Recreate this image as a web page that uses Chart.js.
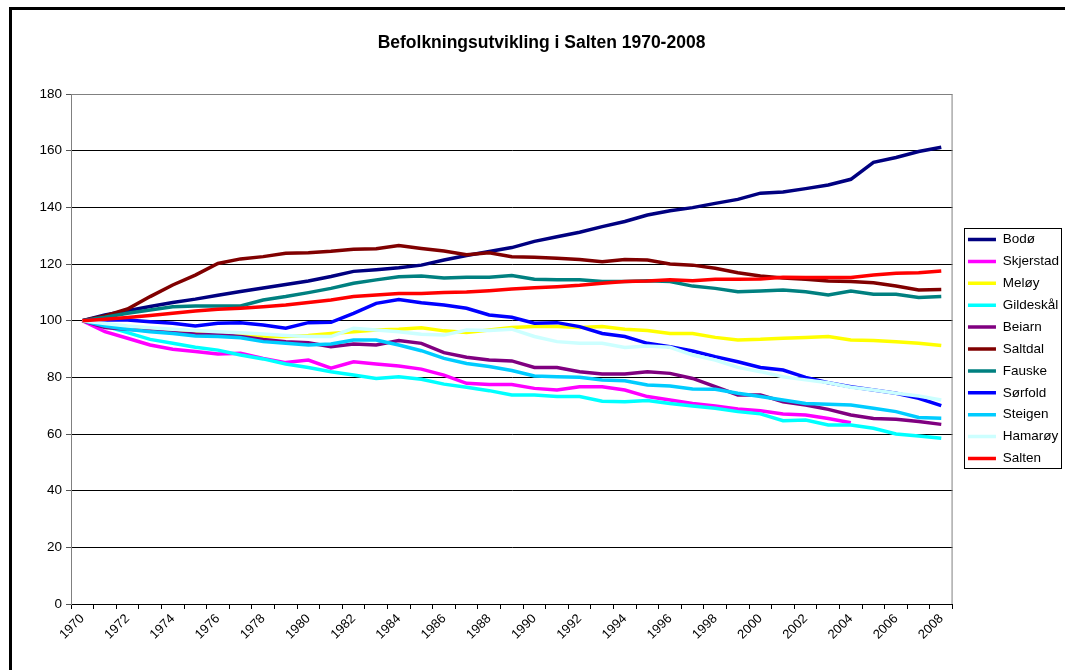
<!DOCTYPE html>
<html>
<head>
<meta charset="utf-8">
<title>Befolkningsutvikling i Salten 1970-2008</title>
<script src="https://cdn.jsdelivr.net/npm/chart.js@4/dist/chart.umd.min.js"></script>
<style>
  html, body { margin: 0; padding: 0; background: #fff; overflow: hidden; }
  #wrap { position: relative; width: 1065px; height: 670px; }
  #frame { position: absolute; left: 9px; top: 7px; width: 1100px; height: 700px; border: 3px solid #000; pointer-events: none; }
</style>
</head>
<body>
<div id="wrap">
  <canvas id="graphCanvas" width="1065" height="670"></canvas>
  <div id="frame"></div>
</div>
<script>
var years = ['1970','1971','1972','1973','1974','1975','1976','1977','1978','1979',
             '1980','1981','1982','1983','1984','1985','1986','1987','1988','1989',
             '1990','1991','1992','1993','1994','1995','1996','1997','1998','1999',
             '2000','2001','2002','2003','2004','2005','2006','2007','2008'];

var bodo      = [100, 102, 103.5, 105, 106.4, 107.6, 109, 110.3, 111.5, 112.8, 114, 115.6, 117.4, 118, 118.7, 119.6, 121.4, 123, 124.4, 125.8, 128, 129.6, 131.2, 133.2, 135, 137.3, 138.8, 139.9, 141.4, 142.8, 145, 145.4, 146.6, 147.9, 149.9, 155.9, 157.6, 159.7, 161.2];
var skjerstad = [100, 96.1, 93.8, 91.4, 89.9, 89.1, 88.2, 88.5, 86.7, 85.2, 86.1, 83.2, 85.5, 84.7, 84, 82.9, 80.8, 77.9, 77.5, 77.5, 76.1, 75.5, 76.7, 76.7, 75.5, 73.2, 72, 70.8, 69.9, 68.8, 68.2, 67.1, 66.7, 65.5, 64, null, null, null, null];
var meloy     = [100, 98.6, 97.6, 97, 96.4, 95.8, 95.4, 95, 94.4, 94.4, 94.8, 95.5, 96.1, 96.7, 97, 97.5, 96.4, 95.8, 96.7, 97.6, 97.9, 97.9, 97.6, 97.9, 97, 96.5, 95.5, 95.5, 94.1, 93.2, 93.4, 93.8, 94.1, 94.4, 93.2, 93, 92.6, 92, 91.2];
var gildeskal = [100, 98.1, 95.8, 93.4, 92, 90.6, 89.6, 87.9, 86.5, 84.7, 83.5, 82, 80.8, 79.6, 80.2, 79.3, 77.6, 76.5, 75.3, 73.8, 73.8, 73.2, 73.2, 71.6, 71.4, 71.8, 70.8, 69.9, 69.1, 67.9, 67.1, 64.7, 64.9, 63.2, 63.2, 62, 60, 59.3, 58.5];
var beiarn    = [100, 97.6, 97, 96.4, 95.8, 95.3, 95.2, 94.4, 93.4, 92.6, 92.2, 90.8, 91.8, 91.4, 93, 92, 88.7, 87.1, 86.1, 85.8, 83.5, 83.5, 82, 81.2, 81.2, 82, 81.4, 79.6, 76.7, 73.8, 73.8, 71.4, 70.2, 68.7, 66.7, 65.5, 65.2, 64.4, 63.4];
var saltdal   = [100, 101.7, 104.1, 108.5, 112.6, 116.1, 120.2, 121.8, 122.6, 123.8, 124, 124.5, 125.2, 125.4, 126.5, 125.5, 124.6, 123.3, 124, 122.6, 122.4, 122, 121.6, 120.8, 121.6, 121.4, 120, 119.6, 118.5, 116.9, 115.8, 115.1, 114.6, 114, 113.8, 113.4, 112.2, 110.8, 111];
var fauske    = [100, 101.2, 102.6, 103.8, 104.9, 105.2, 105.2, 105.2, 107.3, 108.5, 109.9, 111.4, 113.2, 114.4, 115.5, 115.8, 115.1, 115.3, 115.3, 115.9, 114.6, 114.4, 114.4, 113.8, 113.8, 114.1, 113.8, 112.2, 111.4, 110.2, 110.5, 110.8, 110.2, 109.1, 110.5, 109.3, 109.3, 108.2, 108.5];
var sorfold   = [100, 100.2, 100.2, 99.6, 99.1, 98.1, 99.1, 99.3, 98.5, 97.3, 99.3, 99.4, 102.6, 106.1, 107.5, 106.3, 105.5, 104.4, 102, 101.2, 99.1, 99.3, 97.9, 95.5, 94.4, 92, 90.8, 89.3, 87.3, 85.5, 83.5, 82.6, 80, 78.1, 76.7, 75.5, 74.4, 72.6, 70];
var steigen   = [100, 98.1, 97, 96.1, 95.5, 94.6, 94.4, 94, 92.6, 92, 91.4, 91.8, 93.2, 93.2, 91.4, 89.4, 86.7, 84.9, 83.8, 82.4, 80.5, 80.2, 80, 79.1, 78.8, 77.3, 76.9, 75.9, 75.8, 74.4, 73.2, 72, 70.8, 70.5, 70.2, 69.1, 67.9, 65.8, 65.6];
var hamaroy   = [100, 99, 98.1, 97.5, 97, 96.5, 96.1, 95.7, 95.3, 94.8, 94.4, 94.4, 97.3, 96.7, 96.1, 95.2, 94.9, 96.7, 96.5, 97, 94.4, 92.6, 92, 92, 90.5, 91.1, 90.6, 87.9, 86.1, 83.5, 82, 80.2, 79.1, 78.1, 76.5, 75.5, 74.4, 73.4, 72];
var salten    = [100, 100.5, 101.1, 101.8, 102.6, 103.4, 104, 104.4, 104.9, 105.5, 106.4, 107.3, 108.5, 109.1, 109.6, 109.6, 109.9, 110.1, 110.6, 111.2, 111.6, 112, 112.5, 113.2, 113.8, 114, 114.4, 114.1, 114.6, 114.6, 114.7, 115.3, 115.2, 115.2, 115.2, 116.1, 116.7, 116.9, 117.5];

var names  = ['Bodø', 'Skjerstad', 'Meløy', 'Gildeskål', 'Beiarn', 'Saltdal', 'Fauske', 'Sørfold', 'Steigen', 'Hamarøy', 'Salten'];
var colors = ['#000080', '#FF00FF', '#FFFF00', '#00FFFF', '#800080', '#800000', '#008080', '#0000FF', '#00CCFF', '#CCFFFF', '#FF0000'];
var series = [bodo, skjerstad, meloy, gildeskal, beiarn, saltdal, fauske, sorfold, steigen, hamaroy, salten];

Chart.defaults.font.family = '"Liberation Sans", Arial, sans-serif';
Chart.defaults.color = '#000';

var datasets = [];
for (var i = 0; i < names.length; i++) {
    datasets.push({
        label: names[i],
        data: series[i],
        borderColor: colors[i],
        backgroundColor: colors[i],
        borderWidth: 3.5,
        pointRadius: 0,
        tension: 0,
        fill: false,
        order: names.length - i   // later series on top, like the original
    });
}

// grey plot frame, shifted legend and a box round it
var frameLines = {
    id: 'frameLines',
    afterLayout: function (chart) {
        var lg = chart.legend;
        var w = lg.width;
        lg.left = chart.chartArea.right + 7;
        lg.right = lg.left + w;
    },
    beforeDatasetsDraw: function (chart) {
        var a = chart.chartArea, c = chart.ctx;
        c.save();
        c.strokeStyle = '#808080';
        c.lineWidth = 1;
        c.beginPath();
        c.moveTo(a.left, a.top + 0.5);
        c.lineTo(a.right - 0.5, a.top + 0.5);
        c.lineTo(a.right - 0.5, a.bottom);
        c.stroke();
        c.restore();
    },
    afterDraw: function (chart) {
        var hb = chart.legend.legendHitBoxes;
        if (!hb || !hb.length) return;
        var first = hb[0], last = hb[hb.length - 1];
        var maxW = 0;
        hb.forEach(function (h) { maxW = Math.max(maxW, h.width); });
        var c = chart.ctx;
        c.save();
        c.strokeStyle = '#000';
        c.lineWidth = 1;
        var x0 = Math.round(first.left - 4) + 0.5;
        var y0 = Math.round(first.top - 5) + 0.5;
        var x1 = Math.round(first.left + maxW + 2) + 0.5;
        var y1 = Math.round(last.top + last.height + 3) + 0.5;
        c.strokeRect(x0, y0, x1 - x0, y1 - y0);
        c.restore();
    }
};

var graphTarget = document.getElementById('graphCanvas');

var LineGraph = new Chart(graphTarget, {
    type: 'line',
    data: {
        labels: years,
        datasets: datasets
    },
    plugins: [frameLines],
    options: {
        responsive: false,
        animation: false,
        devicePixelRatio: 1,
        layout: {
            padding: { left: 21, right: 3, top: 10, bottom: 0 }
        },
        scales: {
            x: {
                type: 'category',
                offset: true,
                grid: { offset: true, drawOnChartArea: false, drawTicks: true, tickLength: 5, color: '#000' },
                border: { color: '#000', width: 1 },
                ticks: {
                    autoSkip: false,
                    minRotation: 45,
                    maxRotation: 45,
                    padding: 2,
                    color: '#000',
                    font: { size: 13 },
                    callback: function (v, idx) { return idx % 2 === 0 ? years[idx] : ''; }
                },
                afterFit: function (s) { s.height = 66; }
            },
            y: {
                min: 0,
                max: 180,
                ticks: { stepSize: 20, padding: 4, color: '#000', font: { size: 13.5 } },
                grid: {
                    color: function (ctx) { return ctx.tick && ctx.tick.value === 180 ? '#808080' : '#000'; },
                    tickColor: '#555',
                    tickLength: 5,
                    drawTicks: true
                },
                border: { color: '#808080', width: 1 },
                afterFit: function (s) { s.width = 50; }
            }
        },
        plugins: {
            title: {
                display: true,
                text: 'Befolkningsutvikling i Salten 1970-2008',
                color: '#000',
                font: { size: 17.5, weight: 'bold' },
                padding: { top: 22.5, bottom: 40.5 }
            },
            legend: {
                display: true,
                position: 'right',
                fullSize: false,
                align: 'center',
                labels: {
                    usePointStyle: true,
                    pointStyle: 'line',
                    pointStyleWidth: 28,
                    padding: 8.4,
                    color: '#000',
                    font: { size: 13.5 },
                    sort: function (a, b) { return a.datasetIndex - b.datasetIndex; }
                }
            },
            tooltip: { enabled: false }
        }
    }
});
</script>
</body>
</html>
